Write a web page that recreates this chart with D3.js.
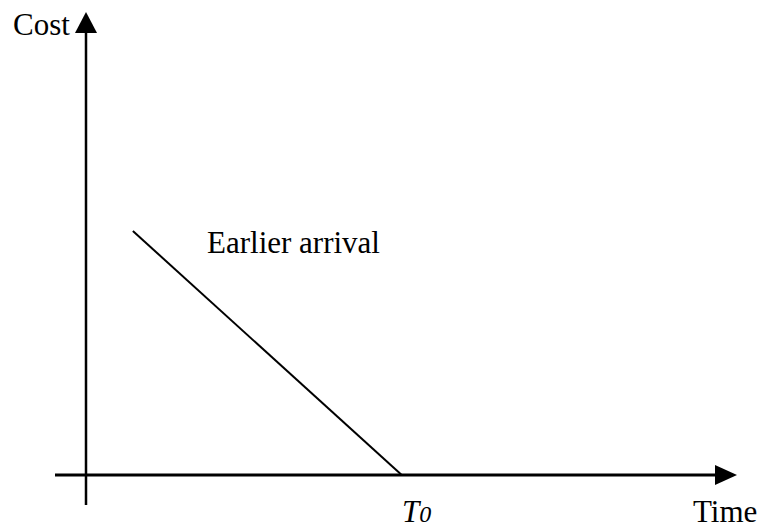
<!DOCTYPE html>
<html><head><meta charset="utf-8">
<script src="https://cdn.jsdelivr.net/npm/d3@7"></script>
<style>html,body{margin:0;padding:0;background:#fff}</style>
</head><body>
<svg id="c" width="762" height="529"></svg>
<script>
// Data
const timeValues = [0.72, 4.85];   // start of line, T0
const costValues = [5.27, 0];
const axisLabels = ["Cost", "Time"];
const lineLabel = "Earlier arrival";
const tickLabel = {main: "T", sub: "0"};

const svg = d3.select("#c");
const x = d3.scaleLinear().domain([0, 10]).range([86, 737]);
const y = d3.scaleLinear().domain([0, 10]).range([475, 12]);
const font = "'Liberation Serif','Times New Roman',serif";

// y axis
svg.append("line").attr("x1", x(0)).attr("x2", x(0))
  .attr("y1", 505).attr("y2", y(9.6)).attr("stroke", "#000").attr("stroke-width", 2.5);
svg.append("path")
  .attr("d", `M${x(0)},${y(10)} L${x(0)-11},${y(10)+21} L${x(0)+11},${y(10)+21} Z`)
  .attr("fill", "#000");
// x axis
svg.append("line").attr("x1", 55).attr("x2", x(9.7))
  .attr("y1", y(0)).attr("y2", y(0)).attr("stroke", "#000").attr("stroke-width", 3);
svg.append("path")
  .attr("d", `M${x(10)},${y(0)} L${x(10)-22},${y(0)-10} L${x(10)-22},${y(0)+10} Z`)
  .attr("fill", "#000");

// data line
const pts = timeValues.map((t, i) => [x(t), y(costValues[i])]);
svg.append("path").attr("d", d3.line()(pts))
  .attr("fill", "none").attr("stroke", "#000").attr("stroke-width", 2);

// labels
svg.append("text").attr("x", 13).attr("y", 35).attr("font-family", font)
  .attr("font-size", 31).text(axisLabels[0]);
svg.append("text").attr("x", 693).attr("y", 522).attr("font-family", font)
  .attr("font-size", 31).text(axisLabels[1]);
svg.append("text").attr("x", 207).attr("y", 253).attr("font-family", font)
  .attr("font-size", 31).text(lineLabel);
const t0 = svg.append("text").attr("x", 402).attr("y", 522).attr("font-family", font)
  .attr("font-style", "italic").attr("font-size", 31);
t0.append("tspan").text(tickLabel.main);
t0.append("tspan").attr("font-size", 24).attr("dy", 0).text(tickLabel.sub);
</script>
</body></html>
